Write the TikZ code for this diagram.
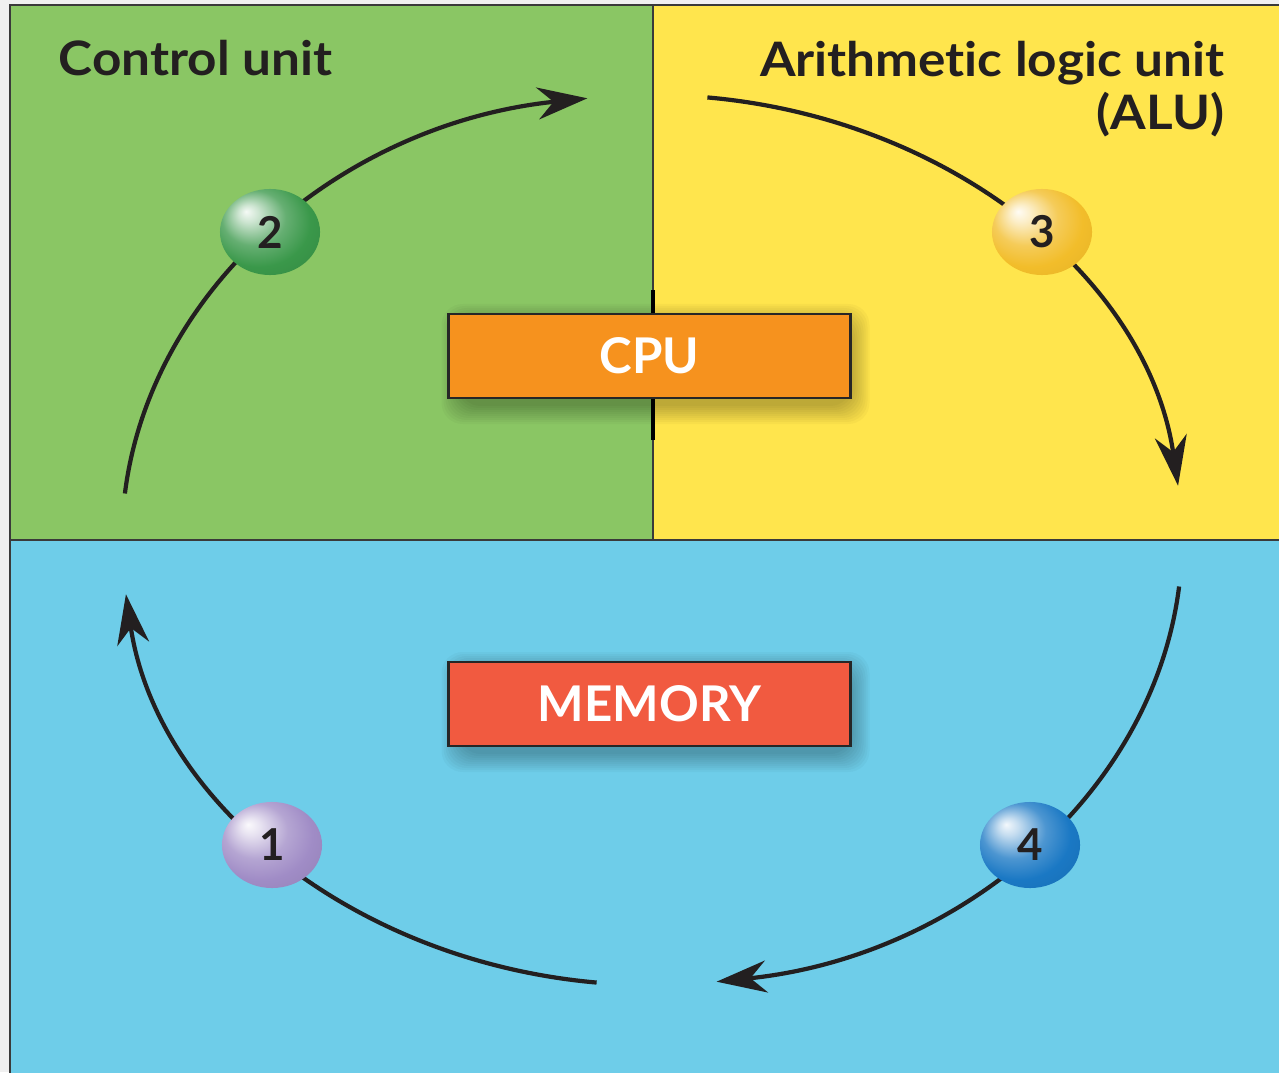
\documentclass[tikz,border=0pt]{standalone}
\usepackage{fontspec}
\setmainfont{Lato}[Ligatures=NoCommon]
\newfontfamily\labelfont{Lato}[Ligatures=NoCommon, FakeStretch=1.08]
\usetikzlibrary{arrows.meta,shapes.geometric}
\definecolor{cgreen}{HTML}{8AC664}
\definecolor{cyellow}{HTML}{FFE54D}
\definecolor{cblue}{HTML}{6ECDE9}
\definecolor{corange}{HTML}{F6921E}
\definecolor{cred}{HTML}{F15A40}
\definecolor{ctext}{HTML}{231F20}
\definecolor{cframe}{HTML}{3A3A3A}
\definecolor{bA}{HTML}{3A984A}
\definecolor{bB}{HTML}{F2BD2A}
\definecolor{bC}{HTML}{A08CC6}
\definecolor{bD}{HTML}{1A78C4}
\pgfdeclareradialshading{ballA}{\pgfpoint{-12bp}{12bp}}{color(0bp)=(bA!5!white); color(5bp)=(bA!25!white); color(16bp)=(bA!78!white); color(26bp)=(bA); color(45bp)=(bA!85!black); color(50bp)=(bA!80!black)}
\pgfdeclareradialshading{ballB}{\pgfpoint{-12bp}{12bp}}{color(0bp)=(bB!5!white); color(5bp)=(bB!25!white); color(16bp)=(bB!78!white); color(26bp)=(bB); color(45bp)=(bB!92!black); color(50bp)=(bB!88!black)}
\pgfdeclareradialshading{ballC}{\pgfpoint{-12bp}{12bp}}{color(0bp)=(bC!5!white); color(5bp)=(bC!25!white); color(16bp)=(bC!78!white); color(26bp)=(bC); color(45bp)=(bC!88!black); color(50bp)=(bC!84!black)}
\pgfdeclareradialshading{ballD}{\pgfpoint{-12bp}{12bp}}{color(0bp)=(bD!5!white); color(5bp)=(bD!25!white); color(16bp)=(bD!78!white); color(26bp)=(bD); color(45bp)=(bD!88!black); color(50bp)=(bD!84!black)}
\begin{document}
\begin{tikzpicture}[x=0.01cm,y=0.01cm,
  panelline/.style={draw=cframe, line width=0.6pt},
  label/.style={font=\labelfont\fontsize{13.5}{16}\selectfont\bfseries, text=ctext, inner sep=0pt},
  unitbox/.style={draw=black!85, line width=0.8pt, minimum width=4.01cm, minimum height=0.84cm,
     text=white, font=\fontsize{14}{16}\selectfont\bfseries, inner sep=0pt},
  ballnode/.style={ellipse, minimum width=1cm, minimum height=0.86cm, inner sep=0pt,
     text=ctext, font=\fontsize{12.5}{14}\selectfont\bfseries},
  cyclearrow/.style={draw=ctext, line width=1.2pt,
     -{Stealth[length=0.5cm, width=0.32cm, inset=0.16cm]}},
  softshadow/.style={fill=black, fill opacity=0.028, draw=none, rounded corners=6pt}
]
\useasboundingbox (0,0) rectangle (1279,1072);
\fill[white!94!black] (0,0) rectangle (1279,1072);
% panels
\fill[cgreen] (10,532) rectangle (653,1067);
\fill[cyellow] (653,532) rectangle (1285,1067);
\fill[cblue] (10,-5) rectangle (1285,532);
\draw[panelline] (10,-5) -- (10,1067) -- (1285,1067);
\draw[panelline] (10,532) -- (1285,532);
\draw[panelline] (653,532) -- (653,1067);
\draw[draw=black, line width=1.4pt] (653,632) -- (653,782);
% texts
\node[label, anchor=base west] (cu) at (58,996) {Control unit};
\node[label, anchor=base east] (alu) at (1225,995) {Arithmetic logic unit};
\node[label, anchor=base east] (alu2) at (1225,942) {(ALU)};
% box positions and soft shadows
\coordinate (cpuC) at (649.5,716);
\coordinate (memC) at (649.5,368);
\foreach \k in {0,...,9}{
  \fill[softshadow] ([shift={(-196+6-\k*2,-42-8-\k*2)}]cpuC) rectangle ([shift={(196+6+\k*2,42-8+\k*2)}]cpuC);
  \fill[softshadow] ([shift={(-196+6-\k*2,-42-8-\k*2)}]memC) rectangle ([shift={(196+6+\k*2,42-8+\k*2)}]memC);
}
\node[unitbox, fill=corange] (cpu) at (cpuC) {CPU};
\node[unitbox, fill=cred] (mem) at (memC) {MEMORY};
% cycle
\coordinate (c) at (652,532);
\coordinate (s2) at ([shift={(174:530 and 445)}]c);
\coordinate (s3) at ([shift={(84:530 and 445)}]c);
\coordinate (s4) at ([shift={(-6:530 and 445)}]c);
\coordinate (s1) at ([shift={(-96:530 and 445)}]c);
\draw[cyclearrow] (s2) arc[start angle=174, end angle=97, x radius=530, y radius=445];
\draw[cyclearrow] (s3) arc[start angle=84, end angle=7, x radius=530, y radius=445];
\draw[cyclearrow] (s4) arc[start angle=-6, end angle=-83, x radius=530, y radius=445];
\draw[cyclearrow] (s1) arc[start angle=-96, end angle=-173, x radius=530, y radius=445];
% balls
\node[ballnode, shading=ballA] (b2) at (270,840) {2};
\node[ballnode, shading=ballB] (b3) at (1042,840) {3};
\node[ballnode, shading=ballC] (b1) at (272,227) {1};
\node[ballnode, shading=ballD] (b4) at (1030,227) {4};
\end{tikzpicture}
\end{document}
